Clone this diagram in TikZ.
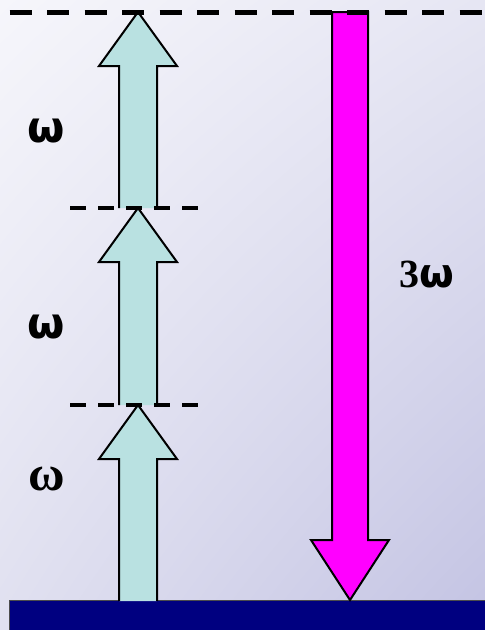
\documentclass[tikz,border=0pt]{standalone}
\usepackage{fontspec}
\usetikzlibrary{shadings}
\newfontfamily\sansw{DejaVu Sans}
\newfontfamily\serifw{Liberation Serif}
\definecolor{bgtl}{HTML}{F6F6FB}
\definecolor{bgtr}{HTML}{E6E6F3}
\definecolor{bgbl}{HTML}{E0E0F0}
\definecolor{bgbr}{HTML}{C3C3E3}
\definecolor{cyanfill}{HTML}{B9E1E1}
\definecolor{navy}{HTML}{000080}
\definecolor{magentafill}{HTML}{FF00FF}
\tikzset{
  uparrow/.style={fill=cyanfill, draw=black, line width=2pt, line join=miter},
  downarrow/.style={fill=magentafill, draw=black, line width=2pt, line join=miter},
  bigdash/.style={line width=5pt, dash pattern=on 22pt off 15.5pt},
  smalldash/.style={line width=4pt, dash pattern=on 16pt off 12pt},
  lbl/.style={inner sep=0pt}
}
\begin{document}
\begin{tikzpicture}[x=1pt,y=-1pt]
\useasboundingbox (0,0) rectangle (485,630);
\shade[upper left=bgtl, upper right=bgtr, lower left=bgbl, lower right=bgbr] (0,0) rectangle (485,630);
% ground bar
\draw[fill=navy, draw=black!70, line width=1.5pt] (9.5,600.5) rectangle (490,635);
% cyan arrows
\foreach \tip/\base in {12/208, 208/405, 405/601}{
  \draw[uparrow] (119,\base) -- (119,\tip+54) -- (99,\tip+54) -- (138,\tip) -- (177,\tip+54) -- (157,\tip+54) -- (157,\base);
}
% magenta arrow
\draw[downarrow] (332,12) -- (368,12) -- (368,540) -- (389,540) -- (350,600) -- (311,540) -- (332,540) -- cycle;
% dashed levels
\coordinate (tl) at (9.5,12);
\coordinate (tr) at (485,12);
\draw[bigdash] (tl) -- (tr);
\coordinate (m1l) at (70,208);
\coordinate (m1r) at (200,208);
\draw[smalldash] (m1l) -- (m1r);
\coordinate (m2l) at (70,405);
\coordinate (m2r) at (200,405);
\draw[smalldash] (m2l) -- (m2r);
% labels
\node[lbl, font=\sansw\bfseries\fontsize{43}{43}\selectfont] (w1) at (46,131) {ω};
\node[lbl, font=\sansw\bfseries\fontsize{43}{43}\selectfont] (w2) at (46,327) {ω};
\node[lbl, font=\serifw\bfseries\fontsize{50}{50}\selectfont] (w3) at (47,479) {ω};
\node[lbl, font=\bfseries\fontsize{40}{40}\selectfont] (w4) at (427,275) {{\serifw\bfseries 3}{\sansw\bfseries ω}};
\end{tikzpicture}
\end{document}
